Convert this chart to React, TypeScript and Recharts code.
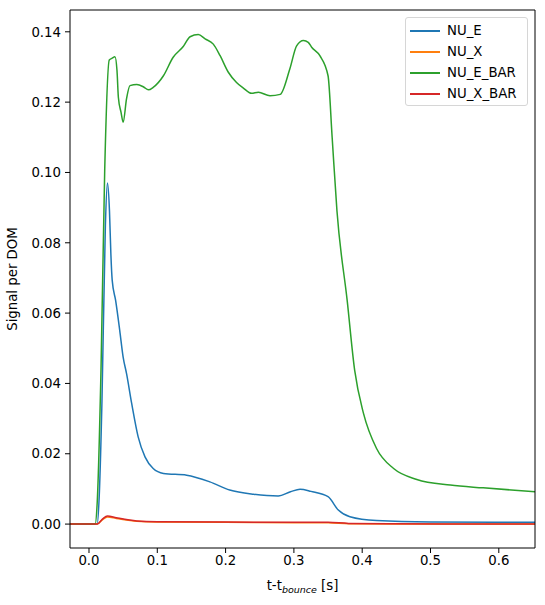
import { LineChart, Line, XAxis, YAxis } from 'recharts';

// time [s] and signal per DOM
const nuETime = [-0.03, 0.012, 0.015, 0.019, 0.024, 0.027, 0.03, 0.032, 0.034, 0.039, 0.045, 0.05, 0.055, 0.0625, 0.072, 0.082, 0.094, 0.109, 0.143, 0.177, 0.206, 0.241, 0.277, 0.295, 0.309, 0.325, 0.35, 0.365, 0.382, 0.421, 0.5, 0.66];
const nuEValues = [0, 0, 0.008, 0.035, 0.085, 0.097, 0.089, 0.077, 0.0693, 0.0636, 0.0551, 0.0475, 0.0428, 0.0343, 0.0248, 0.0191, 0.0158, 0.0144, 0.0139, 0.012, 0.0097, 0.0085, 0.008, 0.0092, 0.0099, 0.0093, 0.0078, 0.004, 0.0021, 0.001, 0.0006, 0.0005];

const nuXTime = [-0.03, 0.012, 0.02, 0.027, 0.04, 0.07, 0.1, 0.2, 0.3, 0.35, 0.38, 0.45, 0.66];
const nuXValues = [0, 0, 0.0013, 0.002, 0.0016, 0.0008, 0.0006, 0.0005, 0.0004, 0.0004, 0.0001, 0.0, 0.0];

const nuEBarTime = [-0.03, 0.009, 0.012, 0.0176, 0.023, 0.0297, 0.034, 0.038, 0.041, 0.043, 0.047, 0.05, 0.055, 0.06, 0.07, 0.08, 0.087, 0.094, 0.109, 0.123, 0.138, 0.148, 0.16, 0.17, 0.182, 0.192, 0.204, 0.216, 0.226, 0.238, 0.248, 0.265, 0.28, 0.294, 0.304, 0.314, 0.321, 0.326, 0.338, 0.35, 0.356, 0.363, 0.378, 0.389, 0.402, 0.421, 0.446, 0.48, 0.529, 0.577, 0.66];
const nuEBarValues = [0, 0, 0.006, 0.044, 0.1005, 0.132, 0.1325, 0.1329, 0.129, 0.1214, 0.117, 0.1143, 0.121, 0.1247, 0.125, 0.1243, 0.1235, 0.1242, 0.1275, 0.1327, 0.1358, 0.1386, 0.1392, 0.138, 0.1365, 0.1332, 0.1285, 0.1256, 0.124, 0.1225, 0.1228, 0.1218, 0.1222, 0.1294, 0.136, 0.1375, 0.137, 0.1356, 0.1332, 0.1275, 0.11, 0.0892, 0.0636, 0.0437, 0.0314, 0.0215, 0.0158, 0.0127, 0.0111, 0.0103, 0.0091];

const nuXBarTime = [-0.03, 0.012, 0.02, 0.027, 0.04, 0.07, 0.1, 0.2, 0.3, 0.35, 0.38, 0.45, 0.66];
const nuXBarValues = [0, 0, 0.0015, 0.0023, 0.0018, 0.0009, 0.0007, 0.0006, 0.0005, 0.0005, 0.0002, 0.0001, 0.0];

const xTicks = [0, 0.1, 0.2, 0.3, 0.4, 0.5, 0.6];
const yTicks = [0, 0.02, 0.04, 0.06, 0.08, 0.1, 0.12, 0.14];

const toPoints = (ts: number[], vs: number[]) => ts.map((t, i) => ({ t, v: vs[i] }));

const series = [
  { name: 'NU_E', color: '#1f77b4', data: toPoints(nuETime, nuEValues) },
  { name: 'NU_X', color: '#ff7f0e', data: toPoints(nuXTime, nuXValues) },
  { name: 'NU_E_BAR', color: '#2ca02c', data: toPoints(nuEBarTime, nuEBarValues) },
  { name: 'NU_X_BAR', color: '#d62728', data: toPoints(nuXBarTime, nuXBarValues) },
];

const FONT = 'DejaVu Sans, sans-serif';
const FS = 13.3;
const X_DOMAIN: [number, number] = [-0.0278, 0.653];
const Y_DOMAIN: [number, number] = [-0.0068, 0.1462];

function LegendBox() {
  return (
    <div
      style={{
        position: 'absolute',
        left: 405,
        top: 17,
        width: 123,
        boxSizing: 'border-box',
        border: '1px solid #d6d6d6',
        borderRadius: 3,
        background: 'rgba(255,255,255,0.8)',
        padding: '2px 0 1px 4px',
        fontFamily: FONT,
        fontSize: FS,
        color: '#000',
      }}
    >
      {series.map((s) => (
        <div key={s.name} style={{ display: 'flex', alignItems: 'center', height: 21 }}>
          <div style={{ width: 30, height: 2, background: s.color, marginRight: 7 }} />
          <span>{s.name}</span>
        </div>
      ))}
    </div>
  );
}

export default function App() {
  return (
    <div style={{ position: 'absolute', left: 0, top: 0, width: 545, height: 605, background: '#fff' }}>
      <LineChart width={545} height={605} margin={{ top: 9, right: 9, bottom: 0, left: 0 }}>
        <XAxis
          type="number"
          dataKey="t"
          domain={X_DOMAIN}
          allowDataOverflow
          ticks={xTicks}
          tickFormatter={(v: number) => v.toFixed(1)}
          height={57}
          tickSize={5}
          tickMargin={3}
          stroke="#000"
          tick={{ fill: '#000', fontSize: FS, fontFamily: FONT }}
          label={{
            content: () => (
              <text x={302.5} y={590} textAnchor="middle" fontFamily={FONT} fontSize={FS} fill="#000">
                <tspan>t-t</tspan>
                <tspan fontSize={9.5} fontStyle="italic" dy={3}>bounce</tspan>
                <tspan dy={-3}> [s]</tspan>
              </text>
            ),
          }}
        />
        <XAxis xAxisId="top" orientation="top" type="number" domain={X_DOMAIN} height={1} tick={false} tickLine={false} stroke="#000" />
        <YAxis
          type="number"
          domain={Y_DOMAIN}
          allowDataOverflow
          ticks={yTicks}
          tickFormatter={(v: number) => v.toFixed(2)}
          width={70}
          tickSize={5}
          tickMargin={4}
          stroke="#000"
          tick={{ fill: '#000', fontSize: FS, fontFamily: FONT }}
          label={{
            content: () => (
              <text x={17} y={279} transform="rotate(-90 17 279)" textAnchor="middle" fontFamily={FONT} fontSize={FS} fill="#000">
                Signal per DOM
              </text>
            ),
          }}
        />
        <YAxis yAxisId="right" orientation="right" type="number" domain={Y_DOMAIN} width={1} tick={false} tickLine={false} stroke="#000" />
        {series.map((s) => (
          <Line
            key={s.name}
            data={s.data}
            dataKey="v"
            name={s.name}
            type="monotone"
            stroke={s.color}
            strokeWidth={1.5}
            dot={false}
            activeDot={false}
            isAnimationActive={false}
          />
        ))}
      </LineChart>
      <LegendBox />
    </div>
  );
}
